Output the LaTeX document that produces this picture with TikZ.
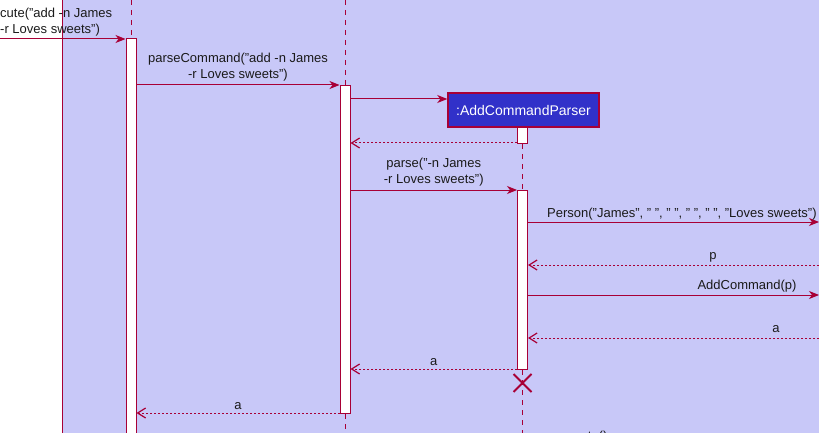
\documentclass[tikz,border=0pt]{standalone}
\usepackage{fontspec}
\setmainfont{Liberation Sans}
\usetikzlibrary{arrows.meta,calc}
\definecolor{crim}{HTML}{A80036}
\definecolor{lav}{HTML}{C8C8F8}
\definecolor{partblue}{HTML}{3131C9}
\definecolor{txt}{HTML}{1A1A1A}
\tikzset{
  lifeline/.style={crim, line width=0.9pt, dash pattern=on 5pt off 5pt},
  actbox/.style={draw=crim, fill=white, line width=1pt, rectangle, minimum width=10pt, inner sep=0pt, anchor=north},
  msg/.style={crim, line width=1pt, -{Stealth[length=10pt,width=8pt,inset=3pt]}},
  ret/.style={crim, line width=1pt, dash pattern=on 2pt off 2pt, -{Straight Barb[length=8pt,width=10pt,line width=1.2pt]}},
  lbl/.style={font=\fontsize{13}{16}\selectfont, text=txt, inner sep=0pt, align=center},
  part/.style={draw=crim, line width=1.5pt, fill=partblue, text=white, font=\fontsize{14}{16}\selectfont, minimum width=151pt, minimum height=34pt, inner sep=0pt},
}
\begin{document}
\begin{tikzpicture}[x=1pt,y=-1pt]
\useasboundingbox (0,0) rectangle (819,433);
\begin{scope}
\clip (0,0) rectangle (819,433);
\fill[lav] (62,0) rectangle (819,433);
\draw[crim, line width=1pt] (62.5,0) -- (62.5,433);

% participant
\node[part] (acp) at (523.5,110) {:AddCommandParser};

% activations
\node[actbox, minimum height=420pt] (a1) at (131,38) {};
\node[actbox, minimum height=328pt] (a2) at (345,85) {};
\node[actbox, minimum height=16pt] (a3a) at (522.5,127) {};
\node[actbox, minimum height=179pt] (a3b) at (522.5,190) {};

% lifeline ends
\coordinate (t1) at (131,0);
\coordinate (t2) at (345,0);
\coordinate (b2) at (345,433);
\coordinate (b3) at (522.5,433);
\draw[lifeline] (t1) -- (a1.north);
\draw[lifeline] (t2) -- (a2.north);
\draw[lifeline] (a2.south) -- (b2);
\draw[lifeline] (a3a.south) -- (a3b.north);
\draw[lifeline] (a3b.south) -- (b3);

% message levels
\coordinate (y1) at (0,39);
\coordinate (y2) at (0,85);
\coordinate (y3) at (0,99);
\coordinate (y4) at (0,143);
\coordinate (y5) at (0,190);
\coordinate (y6) at (0,222);
\coordinate (y7) at (0,265);
\coordinate (y8) at (0,295);
\coordinate (y9) at (0,338);
\coordinate (y10) at (0,369);
\coordinate (y11) at (0,413);
\coordinate (R) at (819,0);

% incoming execute
\draw[msg] (y1) -- (a1.west |- y1);
\node[lbl, align=left, anchor=south west] (l1) at (0,36) {cute("add -n James\\-r Loves sweets")};

% parseCommand
\draw[msg] (a1.east |- y2) -- node[lbl, above=3pt] (l2) {parseCommand("add -n James\\-r Loves sweets")} (a2.west |- y2);

% create
\draw[msg] (a2.east |- y3) -- (acp.west |- y3);
\draw[ret] (a3a.west |- y4) -- (a2.east |- y4);

% parse
\draw[msg] (a2.east |- y5) -- node[lbl, above=3pt] (l5) {parse("-n James\\-r Loves sweets")} (a3b.west |- y5);

% Person
\draw[msg] (a3b.east |- y6) -- (R |- y6);
\node[lbl, anchor=base west] (l6) at (547,217) {Person("James", " ", " ", " ", " ", "Loves sweets")};

% p
\draw[ret] (R |- y7) -- (a3b.east |- y7);
\node[lbl, anchor=base] (l7) at (713,259) {p};

% AddCommand
\draw[msg] (a3b.east |- y8) -- (R |- y8);
\node[lbl, anchor=base] (l8) at (747,289) {AddCommand(p)};

% a
\draw[ret] (R |- y9) -- (a3b.east |- y9);
\node[lbl, anchor=base] (l9) at (776,332) {a};

\draw[ret] (a3b.west |- y10) -- node[lbl, above=3pt] (l10) {a} (a2.east |- y10);

% destroy
\coordinate (xc) at (522.5,383);
\draw[crim, line width=2pt] ($(xc)+(-9,-9)$) -- ($(xc)+(9,9)$);
\draw[crim, line width=2pt] ($(xc)+(-9,9)$) -- ($(xc)+(9,-9)$);

\draw[ret] (a2.west |- y11) -- node[lbl, above=3pt] (l11) {a} (a1.east |- y11);

% bottom cut label
\node[lbl, anchor=base west] (l12) at (553,440) {execute()};
\end{scope}
\end{tikzpicture}
\end{document}
